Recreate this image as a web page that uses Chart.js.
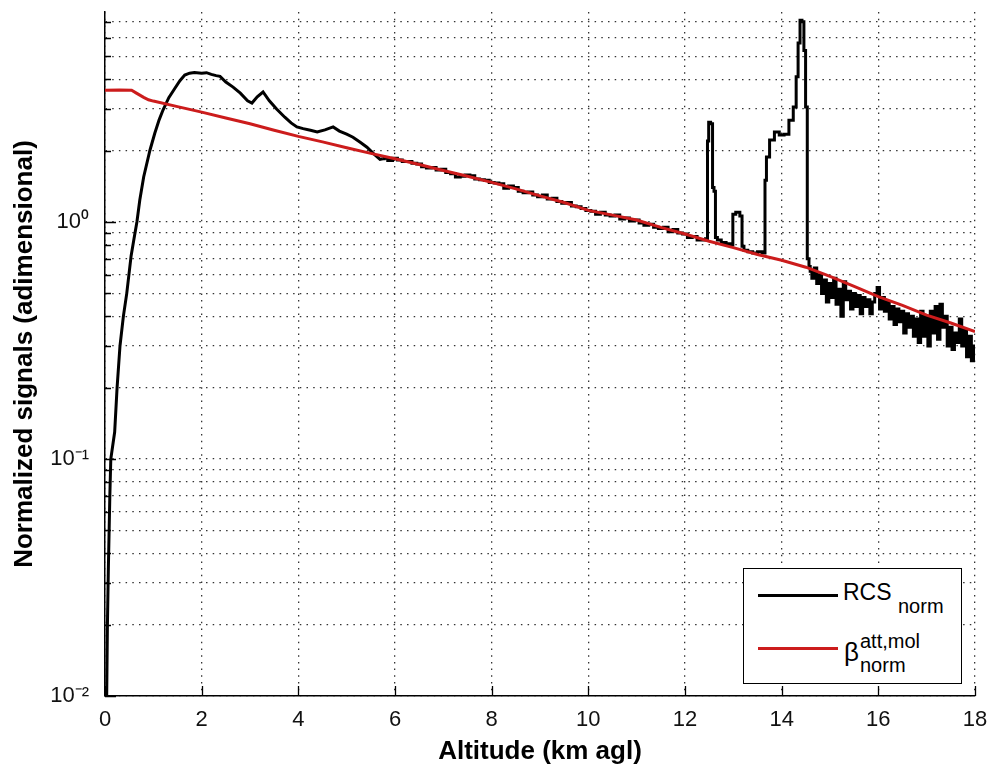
<!DOCTYPE html>
<html>
<head>
<meta charset="utf-8">
<script src="https://cdn.jsdelivr.net/npm/chart.js@4.4.1/dist/chart.umd.min.js"></script>
<style>
html,body{margin:0;padding:0;background:#fff;}
#wrap{position:relative;width:990px;height:770px;}
#c{position:absolute;left:0;top:0;}
#legend{position:absolute;left:743px;top:568px;width:217px;height:114px;border:1px solid #000;background:#fff;font-family:"Liberation Sans",Arial,sans-serif;color:#000;}
#legend .t{position:absolute;line-height:1;white-space:nowrap;}
#legend .sw{position:absolute;left:14px;width:80px;height:3px;}
</style>
</head>
<body>
<div id="wrap">
<canvas id="c" width="990" height="770"></canvas>
<div id="legend">
  <div class="sw" style="top:25px;background:#000;"></div>
  <span class="t" style="left:99px;top:12px;font-size:23px;">RCS</span>
  <span class="t" style="left:154px;top:27px;font-size:20px;">norm</span>
  <div class="sw" style="top:78px;background:#cc1c1c;"></div>
  <span class="t" style="left:100px;top:70px;font-size:26px;">β</span>
  <span class="t" style="left:116px;top:62px;font-size:20px;">att,mol</span>
  <span class="t" style="left:116px;top:86px;font-size:20px;">norm</span>
</div>
</div>
<script>
// ---- data ----
// RCS, near range (smooth part, 0 - 5.7 km)
const rcsNearAltitudeKm = [
  0.00,0.03,0.05,0.07,0.10,0.12,0.20,0.25,0.31,0.38,0.45,0.54,0.60,0.66,0.72,0.80,0.93,1.03,1.12,1.20,
  1.32,1.45,1.55,1.65,1.75,1.85,2.00,2.10,2.20,2.30,2.38,2.50,2.65,2.80,2.95,3.04,3.15,3.27,3.40,3.55,
  3.72,3.85,3.97,4.10,4.25,4.39,4.55,4.72,4.85,5.00,5.13,5.28,5.42,5.55,5.69,5.75
];
const rcsNearValues = [
  0.004,0.008,0.02,0.035,0.07,0.10,0.13,0.20,0.30,0.40,0.50,0.72,0.85,1.00,1.24,1.55,2.01,2.37,2.70,2.97,
  3.35,3.68,3.95,4.17,4.25,4.28,4.25,4.27,4.20,4.15,4.12,3.90,3.71,3.50,3.25,3.18,3.38,3.54,3.25,3.00,
  2.77,2.62,2.52,2.48,2.44,2.40,2.45,2.52,2.42,2.35,2.28,2.17,2.07,1.95,1.84,1.85
];
// RCS, far range (noisy part, 5.75 - 18 km)
const rcsFarAltitudeKm = [
  5.75,5.8,5.9,6.0,6.1,6.2,6.3,6.4,6.5,6.6,6.7,6.8,6.9,7.0,7.1,7.2,7.3,7.4,7.5,7.6,7.7,7.8,7.9,
  8.0,8.1,8.2,8.3,8.4,8.5,8.6,8.7,8.8,8.9,9.0,9.1,9.2,9.3,9.4,9.5,9.6,9.7,9.8,9.9,
  10.0,10.1,10.2,10.3,10.4,10.5,10.6,10.7,10.8,10.9,11.0,11.1,11.2,11.3,11.4,11.5,11.6,11.7,11.8,11.9,
  12.0,12.1,12.2,12.3,12.4,12.45,12.48,12.50,12.56,12.58,12.62,12.64,12.7,12.8,12.9,12.98,
  13.0,13.1,13.17,13.19,13.25,13.35,13.45,13.55,13.64,13.67,13.70,13.8,13.9,14.0,14.1,14.2,14.28,
  14.32,14.36,14.40,14.44,14.48,14.51,14.55,14.58,
  14.60,14.65,14.70,14.75,14.80,14.85,14.90,14.95,15.00,15.05,15.10,15.15,15.20,15.25,15.30,15.35,
  15.40,15.45,15.50,15.55,15.60,15.65,15.70,15.75,15.80,15.85,15.90,15.95,16.00,16.05,16.10,16.15,
  16.20,16.25,16.30,16.35,16.40,16.45,16.50,16.55,16.60,16.65,16.70,16.75,16.80,16.85,16.90,16.95,
  17.00,17.05,17.10,17.15,17.20,17.25,17.30,17.35,17.40,17.45,17.50,17.55,17.60,17.65,17.70,17.75,
  17.80,17.85,17.90,17.95,18.00
];
const rcsFarValues = [
  1.85,1.86,1.82,1.86,1.83,1.80,1.80,1.77,1.76,1.71,1.69,1.70,1.66,1.67,1.62,1.60,1.55,1.56,1.58,1.57,1.52,1.51,1.50,
  1.47,1.46,1.45,1.39,1.42,1.40,1.35,1.33,1.34,1.30,1.28,1.30,1.25,1.26,1.22,1.20,1.21,1.17,1.16,1.14,
  1.12,1.11,1.08,1.10,1.07,1.06,1.07,1.03,1.04,1.01,1.02,0.99,0.97,0.98,0.95,0.94,0.95,0.91,0.93,0.90,
  0.89,0.86,0.87,0.84,0.84,0.85,2.20,2.64,2.60,1.40,1.35,0.86,0.84,0.82,0.81,0.80,
  1.08,1.10,1.06,0.79,0.76,0.75,0.74,0.75,0.74,1.50,1.88,2.22,2.40,2.33,2.35,2.69,3.06,
  4.10,5.70,7.10,7.00,5.30,3.06,0.70,0.65,
  0.62,0.58,0.64,0.55,0.60,0.50,0.57,0.46,0.55,0.48,0.58,0.45,0.52,0.40,0.56,0.47,
  0.51,0.43,0.50,0.44,0.49,0.41,0.48,0.44,0.47,0.41,0.46,0.50,0.53,0.43,0.48,0.42,
  0.46,0.39,0.44,0.37,0.43,0.38,0.42,0.34,0.41,0.36,0.40,0.33,0.39,0.31,0.42,0.33,
  0.40,0.30,0.42,0.34,0.44,0.32,0.45,0.36,0.40,0.30,0.36,0.29,0.34,0.31,0.39,0.30,
  0.35,0.27,0.33,0.26,0.30
];
const molAltitudeKm = [0,0.3,0.55,0.65,0.8,0.9,1.0,1.5,2.0,2.5,3.0,3.5,4.0,4.5,5.0,5.5,6.0,6.5,7.0,7.5,8.0,8.5,9.0,9.5,10.0,10.5,11.0,11.5,12.0,12.5,13.0,13.5,14.0,14.5,15.0,15.5,16.0,16.5,17.0,17.5,18.0];
const molValues = [3.60,3.61,3.60,3.50,3.36,3.28,3.24,3.07,2.91,2.75,2.60,2.44,2.30,2.18,2.06,1.95,1.85,1.75,1.65,1.56,1.47,1.38,1.29,1.21,1.12,1.07,1.02,0.95,0.89,0.83,0.78,0.73,0.69,0.645,0.59,0.535,0.485,0.445,0.405,0.375,0.345];
const xTickValues = [0,2,4,6,8,10,12,14,16,18];
const yTickValues = [0.01,0.02,0.03,0.04,0.05,0.06,0.07,0.08,0.09,0.1,0.2,0.3,0.4,0.5,0.6,0.7,0.8,0.9,1,2,3,4,5,6,7];
const yDecadeValues = [0.01,0.1,1];
const yDecadeLabels = ['10\u207B\u00B2','10\u207B\u00B9','10\u2070'];
const seriesNames = ['RCS norm','beta att,mol norm'];

// ---- chart ----
const FONT = "'Liberation Sans', Arial, Helvetica, sans-serif";
const isDecade = v => yDecadeValues.some(d => Math.abs(d - v) < 1e-12);
const toPoints = (xs, ys) => xs.map((x, i) => ({x, y: ys[i]}));

const innerTicks = {
  id: 'innerTicks',
  afterDraw(chart) {
    const {ctx, chartArea: a, scales: {x, y}} = chart;
    ctx.save();
    ctx.strokeStyle = '#000';
    ctx.lineWidth = 1.3;
    ctx.beginPath();
    yTickValues.forEach(v => {
      const py = Math.round(y.getPixelForValue(v)) + 0.5;
      const len = isDecade(v) ? 11 : 6;
      ctx.moveTo(a.left, py); ctx.lineTo(a.left + len, py);
    });
    xTickValues.forEach(v => {
      const px = Math.round(x.getPixelForValue(v)) + 0.5;
      ctx.moveTo(px, a.bottom); ctx.lineTo(px, a.bottom - 10);
    });
    ctx.stroke();
    ctx.restore();
  }
};

new Chart(document.getElementById('c'), {
  type: 'line',
  data: {
    datasets: [
      {
        label: seriesNames[1],
        data: toPoints(molAltitudeKm, molValues),
        borderColor: '#cc1c1c',
        borderWidth: 3,
        pointRadius: 0,
        tension: 0,
        order: 0
      },
      {
        label: seriesNames[0],
        data: toPoints(rcsNearAltitudeKm, rcsNearValues),
        borderColor: '#000',
        borderWidth: 3,
        pointRadius: 0,
        tension: 0,
        order: 1
      },
      {
        label: seriesNames[0],
        data: toPoints(rcsFarAltitudeKm, rcsFarValues),
        borderColor: '#000',
        borderWidth: 3,
        pointRadius: 0,
        tension: 0,
        stepped: 'middle',
        order: 1
      }
    ]
  },
  options: {
    responsive: false,
    animation: false,
    events: [],
    devicePixelRatio: 1,
    layout: {padding: {top: 12, right: 15, left: 0, bottom: 0}},
    plugins: {legend: {display: false}, tooltip: {enabled: false}},
    scales: {
      x: {
        type: 'linear',
        min: 0, max: 18,
        afterBuildTicks: s => { s.ticks = xTickValues.map(v => ({value: v})); },
        afterFit: s => { s.height = 74; s.paddingLeft = 0; s.paddingRight = 0; s.paddingTop = 0; s.paddingBottom = 0; },
        ticks: {font: {family: FONT, size: 22}, color: '#111', padding: 11, maxRotation: 0, autoSkip: false},
        grid: {color: '#333', lineWidth: 1.3, drawTicks: false},
        border: {display: true, color: '#000', width: 1.5, dash: [1.5, 5.2]},
        title: {display: true, text: 'Altitude (km agl)', font: {family: FONT, size: 26, weight: 'bold'}, color: '#000', padding: {top: 0, bottom: 3}}
      },
      y: {
        type: 'logarithmic',
        min: 0.01, max: 7.7,
        afterBuildTicks: s => { s.ticks = yTickValues.map(v => ({value: v})); },
        afterFit: s => { s.width = 105; s.paddingLeft = 0; s.paddingRight = 0; s.paddingTop = 0; s.paddingBottom = 0; },
        ticks: {
          font: {family: FONT, size: 22}, color: '#111', padding: 16, autoSkip: false,
          callback: v => { const i = yDecadeValues.findIndex(d => Math.abs(d - v) < 1e-12); return i >= 0 ? yDecadeLabels[i] : ''; }
        },
        grid: {color: '#333', lineWidth: 1.3, drawTicks: false},
        border: {display: true, color: '#000', width: 1.5, dash: [1.5, 5.2]},
        title: {display: true, text: 'Normalized signals (adimensional)', font: {family: FONT, size: 26, weight: 'bold'}, color: '#000', padding: {top: 9, bottom: 0}}
      }
    }
  },
  plugins: [innerTicks]
});
</script>
</body>
</html>
